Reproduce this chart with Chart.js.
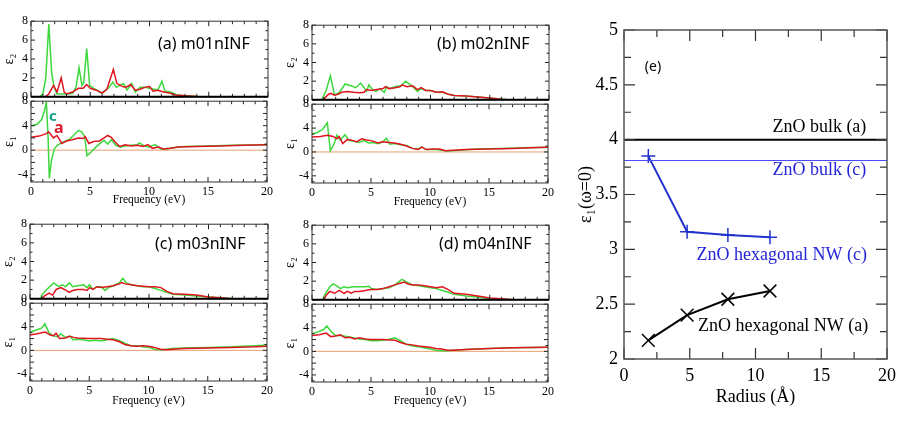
<!DOCTYPE html>
<html>
<head>
<meta charset="utf-8">
<script src="https://cdn.jsdelivr.net/npm/chart.js@4.4.1/dist/chart.umd.min.js"></script>
<style>
  body { margin: 0; background: #fff; width: 910px; height: 429px; position: relative; overflow: hidden; }
  canvas { position: absolute; }
  .lbl { position: absolute; font-family: "Noto Sans", sans-serif; white-space: nowrap; line-height: 1; transform: translateY(-50%); }
</style>
</head>
<body>
<script>
// ---- data: [frequency (eV), value] ----
const aE2Green = [[0,0],[0.7,0],[1.0,0.3],[1.25,2.0],[1.5,7.7],[1.75,2.5],[1.95,1.0],[2.2,0.3],[2.5,0.3],[3.0,0.3],[3.5,0.35],[3.8,1.0],[4.05,3.1],[4.3,1.2],[4.45,1.5],[4.7,5.1],[4.95,1.2],[5.3,0.9],[5.7,0.6],[6.0,0.4],[6.3,0.7],[6.6,1.0],[6.9,1.55],[7.2,1.0],[7.5,1.2],[7.8,1.4],[8.1,0.7],[8.5,1.4],[8.8,0.5],[9.2,1.0],[9.6,1.0],[10.0,0.9],[10.4,0.8],[10.7,0.7],[11.05,1.65],[11.3,0.6],[11.8,0.5],[12.3,0.2],[13,0.1],[14,0.03],[15,0],[20,0]];
const aE2Red = [[0,0],[1.2,0],[1.5,0.3],[1.9,1.2],[2.2,0.5],[2.55,2.0],[2.8,0.5],[3.0,0.3],[3.5,0.5],[4.0,0.9],[4.4,0.9],[4.7,1.3],[5.0,0.9],[5.5,0.7],[6.0,0.4],[6.4,0.8],[6.95,2.9],[7.25,1.4],[7.7,1.1],[8.0,1.0],[8.4,1.3],[8.8,0.7],[9.2,0.8],[9.6,1.0],[10.0,1.1],[10.3,0.6],[10.7,0.7],[11.2,0.5],[11.7,0.4],[12.2,0.2],[13,0.1],[14,0.03],[15,0],[20,0]];
const aE1Green = [[0,4.0],[0.5,4.2],[0.9,5.0],[1.15,6.5],[1.3,7.9],[1.45,2.0],[1.55,-4.6],[1.75,-1.5],[2.0,0.3],[2.3,0.9],[2.7,1.3],[3.2,1.7],[3.6,2.4],[4.0,3.2],[4.3,3.0],[4.55,2.2],[4.75,-0.9],[5.1,-0.3],[5.5,0.5],[5.9,1.2],[6.2,1.6],[6.5,1.0],[6.8,1.7],[7.2,0.8],[7.6,0.5],[8.0,0.7],[8.5,0.8],[9.0,0.9],[9.2,1.2],[9.5,0.8],[10.0,0.5],[10.5,0.9],[11.0,0.2],[11.5,0.2],[12.0,0.4],[13,0.6],[15,0.7],[17,0.8],[20,0.9]];
const aE1Red = [[0,2.1],[0.7,2.3],[1.3,2.7],[1.5,3.0],[1.9,2.0],[2.2,2.4],[2.4,1.8],[2.6,1.1],[3.0,1.5],[3.5,1.7],[4.0,2.0],[4.4,1.9],[4.6,2.2],[4.9,1.1],[5.3,1.4],[5.8,1.5],[6.1,1.9],[6.5,2.4],[6.8,2.1],[7.1,1.4],[7.5,0.6],[8.0,0.9],[8.5,0.7],[9.0,0.8],[9.5,0.6],[9.9,0.9],[10.3,0.3],[10.8,0.5],[11.2,0.2],[11.8,0.3],[12.5,0.5],[14,0.6],[16,0.7],[18,0.8],[20,0.9]];

const bE2Green = [[0,0],[0.8,0],[0.9,0.2],[1.2,1.0],[1.55,2.6],[1.9,0.5],[2.3,0.8],[2.8,1.7],[3.3,1.5],[3.7,1.3],[4.1,1.8],[4.4,1.3],[4.6,0.9],[4.8,1.6],[5.1,1.1],[5.4,0.9],[5.7,1.2],[6.1,0.8],[6.3,1.4],[6.6,1.2],[7.0,1.4],[7.5,1.5],[7.9,2.0],[8.3,1.6],[8.6,1.3],[8.9,0.9],[9.2,1.2],[9.6,1.0],[10.0,1.0],[10.5,0.8],[11.0,0.8],[11.5,0.6],[12,0.45],[13,0.4],[14,0.3],[15,0.2],[16,0.05],[16.5,0],[20,0]];
const bE2Red = [[0,0],[0.9,0],[1.0,0.1],[1.4,0.6],[1.6,0.7],[1.9,0.5],[2.2,0.6],[2.5,0.8],[3.0,0.9],[3.5,0.8],[4.0,0.75],[4.4,0.8],[4.6,1.1],[5.0,1.0],[5.5,1.1],[6.0,1.2],[6.2,1.4],[6.5,1.2],[7.0,1.3],[7.4,1.4],[7.6,1.6],[8.0,1.4],[8.5,1.5],[8.9,1.1],[9.2,1.3],[9.6,1.0],[10.0,1.0],[10.5,0.8],[11.0,0.85],[11.5,0.6],[12,0.45],[13,0.4],[14,0.3],[15,0.2],[16,0.05],[16.5,0],[20,0]];
const bE1Green = [[0,3.0],[0.5,3.3],[0.9,3.8],[1.3,4.9],[1.55,0.2],[1.9,1.5],[2.1,2.8],[2.4,2.0],[2.8,2.9],[3.1,2.0],[3.5,1.8],[4.0,1.6],[4.4,1.9],[4.8,1.5],[5.2,1.6],[5.6,1.4],[6.0,1.7],[6.3,2.3],[6.6,1.3],[7.0,1.4],[7.5,1.2],[8.0,1.1],[8.5,0.6],[9.0,0.5],[9.3,0.8],[9.7,0.4],[10.5,0.4],[11.0,0.3],[11.5,0.15],[12.5,0.3],[14,0.5],[16,0.6],[18,0.7],[20,0.8]];
const bE1Red = [[0,2.5],[0.7,2.6],[1.3,2.8],[1.8,2.6],[2.1,2.2],[2.3,2.6],[2.6,1.4],[3.0,2.1],[3.5,1.9],[3.8,1.7],[4.2,2.2],[4.6,2.0],[5.0,1.9],[5.6,1.5],[6.0,1.7],[6.5,1.6],[7.0,1.5],[7.5,1.3],[8.0,1.0],[8.5,0.6],[9.0,0.4],[9.3,0.8],[9.7,0.4],[10.3,0.5],[10.8,0.5],[11.3,0.2],[12,0.3],[13,0.4],[15,0.5],[17,0.6],[18.5,0.7],[20,0.8]];

const cE2Green = [[0,0],[0.9,0],[1.0,0.4],[1.4,1.0],[2.0,1.7],[2.4,1.3],[2.7,1.5],[3.0,1.3],[3.3,1.7],[3.6,1.3],[4.0,1.4],[4.5,1.5],[4.8,1.2],[5.0,1.5],[5.3,1.0],[5.6,1.3],[6.0,1.3],[6.3,0.9],[6.6,1.2],[7.0,1.4],[7.5,1.7],[7.8,2.2],[8.1,1.7],[8.5,1.5],[9.0,1.4],[9.5,1.3],[10.0,1.3],[10.5,1.1],[11.0,0.9],[11.5,0.7],[12,0.5],[13,0.4],[14,0.3],[15,0.2],[16,0.1],[17,0],[20,0]];
const cE2Red = [[0,0],[1.0,0],[1.2,0.3],[1.6,0.6],[1.9,0.4],[2.2,1.0],[2.6,1.2],[2.9,1.0],[3.3,0.7],[3.6,0.9],[4.0,1.0],[4.5,1.0],[4.8,0.9],[5.0,1.2],[5.3,1.0],[5.6,1.3],[6.0,1.2],[6.5,1.3],[7.0,1.4],[7.5,1.6],[7.7,1.75],[8.0,1.6],[8.5,1.5],[9.0,1.4],[9.5,1.35],[10,1.3],[10.5,1.3],[11.0,1.2],[11.5,0.8],[12,0.55],[13,0.5],[14,0.4],[15,0.2],[16,0.1],[17,0],[20,0]];
const cE1Green = [[0,3.1],[0.5,3.4],[1.0,3.8],[1.25,4.5],[1.6,3.0],[1.9,2.5],[2.3,2.3],[2.6,2.8],[3.0,2.2],[3.4,2.4],[3.6,1.8],[4.0,1.9],[4.5,1.8],[5.0,1.6],[5.5,1.7],[6.0,1.6],[6.5,1.8],[7.0,2.0],[7.5,1.7],[8.0,1.2],[8.5,0.8],[9.0,0.8],[9.5,0.6],[10,0.5],[10.5,0.2],[11,0.1],[11.5,0.2],[12,0.3],[13,0.4],[15,0.5],[17,0.6],[19,0.8],[20,0.9]];
const cE1Red = [[0,2.6],[0.6,2.8],[1.3,3.1],[1.7,2.6],[2.0,2.5],[2.2,2.9],[2.5,2.0],[3.0,2.1],[3.3,2.4],[3.7,2.2],[4.0,2.1],[5.0,2.0],[6.0,2.0],[6.5,1.9],[7.0,1.8],[7.5,1.5],[8.0,1.0],[8.5,0.8],[9.0,0.7],[9.5,0.8],[10,0.7],[10.5,0.5],[11,0.2],[11.5,0.1],[12,0.2],[13,0.3],[15,0.4],[17,0.5],[19,0.6],[20,0.7]];

const dE2Green = [[0,0],[0.9,0],[1.1,0.6],[1.5,1.4],[1.8,1.7],[2.1,1.5],[2.4,1.2],[2.7,1.4],[3.0,1.3],[3.5,1.4],[4.0,1.4],[4.5,1.4],[4.8,1.45],[5.0,1.2],[5.5,1.1],[6.0,1.2],[6.5,1.3],[7.0,1.6],[7.4,2.0],[7.6,2.2],[8.0,1.9],[8.5,1.6],[9.0,1.5],[9.5,1.4],[10,1.3],[10.5,1.2],[11,1.0],[11.5,0.8],[12,0.6],[13,0.4],[14,0.3],[15,0.1],[16,0.05],[17,0],[20,0]];
const dE2Red = [[0,0],[1.0,0],[1.2,0.5],[1.5,0.9],[1.9,0.7],[2.3,1.0],[2.7,0.7],[3.0,0.9],[3.3,0.7],[3.6,0.9],[4.0,0.9],[4.5,1.0],[5.0,1.1],[5.5,1.1],[6.0,1.2],[6.5,1.4],[7.0,1.6],[7.5,1.8],[7.8,1.9],[8.1,1.7],[8.5,1.6],[9.0,1.6],[9.5,1.5],[10,1.4],[10.5,1.3],[11,1.4],[11.5,1.1],[12,0.7],[13,0.6],[14,0.4],[15,0.2],[16,0.1],[17,0],[20,0]];
const dE1Green = [[0,3.0],[0.5,3.3],[1.0,3.7],[1.25,4.3],[1.6,3.4],[2.0,2.7],[2.5,2.7],[3.0,2.5],[3.5,2.3],[4.0,2.1],[4.5,2.0],[5.0,1.8],[5.5,1.8],[6.0,1.9],[6.5,2.0],[7.0,2.3],[7.5,1.8],[8.0,1.2],[8.5,0.9],[9.0,0.8],[9.5,0.6],[10,0.4],[10.5,0.2],[11,0.1],[11.5,0.1],[12,0.2],[13,0.3],[14,0.4],[15,0.5],[17,0.6],[20,0.7]];
const dE1Red = [[0,2.7],[0.6,2.8],[1.2,3.1],[1.6,2.5],[2.0,2.6],[2.4,2.8],[2.8,2.3],[3.2,2.4],[3.6,2.1],[4.0,2.3],[4.5,2.1],[5.0,2.0],[5.5,2.0],[6.0,2.0],[7.0,1.9],[7.5,1.5],[8.0,1.2],[8.5,1.1],[9.0,0.9],[10,0.7],[10.5,0.5],[11,0.4],[11.5,0.2],[12,0.2],[13,0.3],[14,0.4],[15,0.5],[17,0.6],[20,0.7]];

const freqTicks = [0, 5, 10, 15, 20];
const e2Ticks = [0, 2, 4, 6, 8];
const e1Ticks = [-4, -2, 0, 2, 4, 6, 8];

// panel (e): static dielectric constant vs wire radius
const radius = [1.85, 4.8, 7.9, 11.1];
const nwC = [3.85, 3.16, 3.13, 3.11];
const nwA = [2.17, 2.40, 2.545, 2.62];
const bulkA = 4.0;
const bulkC = 3.81;
const radiusTicks = [0, 5, 10, 15, 20];
const eps0Ticks = [2, 2.5, 3, 3.5, 4, 4.5, 5];

const SERIF = '"Liberation Serif", "DejaVu Serif", serif';
const GREEN = '#3cd83c', RED = '#e01420', ZERO = '#e8a070';
const BLUE = '#2233cc';

// inward ticks + frame drawn on every side of the plot area
const frameTicks = {
  id: 'frameTicks',
  afterDraw(chart, args, o) {
    const { ctx, chartArea: a } = chart;
    const sx = chart.scales.x, sy = chart.scales.y;
    const isMajor = (v, s) => Math.abs(v / s - Math.round(v / s)) < 1e-6;
    ctx.save();
    ctx.strokeStyle = o.tickColor;
    ctx.lineWidth = o.tickWidth;
    ctx.beginPath();
    for (let i = Math.ceil(sx.min / o.xMinor - 1e-9); i * o.xMinor <= sx.max + 1e-9; i++) {
      const v = i * o.xMinor, px = sx.getPixelForValue(v);
      const len = isMajor(v, o.xMajor) ? o.xLong : o.xShort;
      ctx.moveTo(px, a.bottom); ctx.lineTo(px, a.bottom - len);
      ctx.moveTo(px, a.top); ctx.lineTo(px, a.top + len);
    }
    for (let i = Math.ceil(sy.min / o.yMinor - 1e-9); i * o.yMinor <= sy.max + 1e-9; i++) {
      const v = i * o.yMinor, py = sy.getPixelForValue(v);
      const len = isMajor(v, o.yMajor) ? o.yLong : o.yShort;
      ctx.moveTo(a.left, py); ctx.lineTo(a.left + len, py);
      ctx.moveTo(a.right, py); ctx.lineTo(a.right - len, py);
    }
    ctx.stroke();
    ctx.strokeStyle = o.frameColor;
    ctx.lineWidth = o.frameWidth;
    ctx.strokeRect(a.left, a.top, a.right - a.left, a.bottom - a.top);
    if (o.thickBottom) {
      ctx.strokeStyle = '#000';
      ctx.lineWidth = 2;
      ctx.beginPath();
      ctx.moveTo(a.left, a.bottom); ctx.lineTo(a.right, a.bottom);
      ctx.stroke();
    }
    ctx.restore();
  }
};

// text notes placed at data coordinates
const notesPlugin = {
  id: 'notes',
  afterDraw(chart, args, o) {
    const { ctx } = chart;
    ctx.save();
    ctx.textBaseline = 'middle';
    o.items.forEach(n => {
      ctx.font = n.font;
      ctx.fillStyle = n.color;
      ctx.textAlign = n.align;
      ctx.fillText(n.text, chart.scales.x.getPixelForValue(n.x), chart.scales.y.getPixelForValue(n.y));
    });
    ctx.restore();
  }
};

function addCanvas(left, top, w, h) {
  const c = document.createElement('canvas');
  c.width = Math.round(w);
  c.height = Math.round(h);
  c.style.left = Math.round(left) + 'px';
  c.style.top = Math.round(top) + 'px';
  document.body.appendChild(c);
  return c;
}

function addLabel(text, left, centerY, css) {
  const d = document.createElement('div');
  d.className = 'lbl';
  d.textContent = text;
  d.style.left = left + 'px';
  d.style.top = centerY + 'px';
  Object.assign(d.style, css);
  document.body.appendChild(d);
}

const setTicks = arr => s => { s.ticks = arr.map(v => ({ value: v })); };

function smallChart(p, bottom) {
  const yW = 31, pad = 8;
  const top = bottom ? p.M : p.T;
  const plotH = bottom ? p.B - p.M : p.M - p.T;
  const xH = bottom ? p.H : 0;
  const padBottom = bottom ? 2 : pad;
  const canvas = addCanvas(p.L - yW, top - pad, p.R - p.L + yW + pad, pad + plotH + xH + padBottom);
  const series = bottom ? p.e1 : p.e2;
  const datasets = [
    { data: series[1], borderColor: RED, borderWidth: 1.5 },
    { data: series[0], borderColor: GREEN, borderWidth: 1.5 }
  ];
  if (bottom) datasets.push({ data: [[0, 0], [20, 0]], borderColor: ZERO, borderWidth: 1 });
  new Chart(canvas, {
    type: 'line',
    data: { datasets },
    plugins: [frameTicks],
    options: {
      responsive: false,
      animation: false,
      devicePixelRatio: 1,
      layout: { padding: { left: 0, right: pad, top: pad, bottom: padBottom } },
      elements: { point: { radius: 0 }, line: { tension: 0 } },
      plugins: {
        legend: { display: false },
        tooltip: { enabled: false },
        frameTicks: {
          tickColor: '#222', tickWidth: 1, frameColor: '#333', frameWidth: 1,
          xMinor: 1, xMajor: 5, xLong: 5, xShort: 3,
          yMinor: 1, yMajor: 2, yLong: 4, yShort: 2.5,
          thickBottom: !bottom
        }
      },
      scales: {
        x: {
          type: 'linear', min: 0, max: 20, display: bottom,
          afterBuildTicks: setTicks(freqTicks),
          afterFit: s => { s.height = xH; },
          grid: { display: false, drawTicks: false },
          border: { display: false },
          ticks: { padding: 3, color: '#000', font: { family: SERIF, size: 12 } },
          title: { display: true, text: 'Frequency (eV)', padding: 0, color: '#000', font: { family: SERIF, size: 11.5 } }
        },
        y: {
          type: 'linear', min: bottom ? -5.2 : 0, max: 8,
          afterBuildTicks: setTicks(bottom ? e1Ticks : e2Ticks),
          afterFit: s => { s.width = yW; },
          grid: { display: false, drawTicks: false },
          border: { display: false },
          ticks: { padding: 3, color: '#000', font: { family: SERIF, size: 12 } },
          title: { display: true, text: bottom ? 'ε₁' : 'ε₂', padding: { top: 1, bottom: 0 }, color: '#000', font: { family: SERIF, size: 14 } }
        }
      }
    }
  });
}

const panels = [
  { name: '(a) m01nINF', L: 31, R: 268, T: 19, M: 99, B: 182, H: 25, lx: 158, ly: 43, e2: [aE2Green, aE2Red], e1: [aE1Green, aE1Red] },
  { name: '(b) m02nINF', L: 312, R: 549, T: 23, M: 102, B: 183, H: 26, lx: 437, ly: 43, e2: [bE2Green, bE2Red], e1: [bE1Green, bE1Red] },
  { name: '(c) m03nINF', L: 30, R: 268, T: 222, M: 301, B: 381, H: 27, lx: 155, ly: 243, e2: [cE2Green, cE2Red], e1: [cE1Green, cE1Red] },
  { name: '(d) m04nINF', L: 312, R: 549, T: 223, M: 302, B: 382, H: 26, lx: 439, ly: 243, e2: [dE2Green, dE2Red], e1: [dE1Green, dE1Red] }
];

panels.forEach(p => {
  smallChart(p, false);
  smallChart(p, true);
  addLabel(p.name, p.lx, p.ly, { fontSize: '16px', color: '#000' });
});
addLabel('c', 49, 115, { fontSize: '15px', fontWeight: 'bold', color: '#17a08c' });
addLabel('a', 54, 127, { fontSize: '16px', fontWeight: 'bold', color: '#dd1a2a' });

// ---- panel (e) ----
const eCanvas = addCanvas(575, 0, 335, 429);
new Chart(eCanvas, {
  type: 'line',
  data: {
    datasets: [
      { data: [[0, bulkA], [20, bulkA]], borderColor: '#000', borderWidth: 2, pointRadius: 0 },
      { data: [[0, bulkC], [20, bulkC]], borderColor: '#4a4aff', borderWidth: 1, pointRadius: 0 },
      { data: radius.map((r, i) => [r, nwC[i]]), borderColor: BLUE, borderWidth: 2,
        pointStyle: 'cross', pointRadius: 7, pointBorderWidth: 1.5, pointBorderColor: BLUE },
      { data: radius.map((r, i) => [r, nwA[i]]), borderColor: '#000', borderWidth: 2,
        pointStyle: 'crossRot', pointRadius: 9, pointBorderWidth: 1.5, pointBorderColor: '#000' }
    ]
  },
  plugins: [frameTicks, notesPlugin],
  options: {
    responsive: false,
    animation: false,
    devicePixelRatio: 1,
    layout: { padding: { left: 0, right: 23, top: 30, bottom: 21 } },
    elements: { line: { tension: 0 } },
    plugins: {
      legend: { display: false },
      tooltip: { enabled: false },
      frameTicks: {
        tickColor: '#333', tickWidth: 1.2, frameColor: '#555', frameWidth: 1.5,
        xMinor: 2.5, xMajor: 5, xLong: 11, xShort: 7,
        yMinor: 0.25, yMajor: 0.5, yLong: 11, yShort: 7,
        thickBottom: false
      },
      notes: {
        items: [
          { text: '(e)', x: 2.2, y: 4.66, align: 'center', color: '#000', font: '14px "Noto Sans", sans-serif' },
          { text: 'ZnO bulk (a)', x: 18.43, y: 4.11, align: 'right', color: '#000', font: '18px ' + SERIF },
          { text: 'ZnO bulk (c)', x: 18.43, y: 3.72, align: 'right', color: '#2424d8', font: '18px ' + SERIF },
          { text: 'ZnO hexagonal NW (c)', x: 5.52, y: 2.95, align: 'left', color: '#2424d8', font: '18px ' + SERIF },
          { text: 'ZnO hexagonal NW (a)', x: 5.62, y: 2.30, align: 'left', color: '#000', font: '18px ' + SERIF }
        ]
      }
    },
    scales: {
      x: {
        type: 'linear', min: 0, max: 20,
        afterBuildTicks: setTicks(radiusTicks),
        afterFit: s => { s.height = 49; },
        grid: { display: false, drawTicks: false },
        border: { display: false },
        ticks: { padding: 6, color: '#000', font: { family: SERIF, size: 18 } },
        title: { display: true, text: 'Radius (Å)', padding: 0, color: '#000', font: { family: SERIF, size: 18 } }
      },
      y: {
        type: 'linear', min: 2, max: 5,
        afterBuildTicks: setTicks(eps0Ticks),
        afterFit: s => { s.width = 49; },
        grid: { display: false, drawTicks: false },
        border: { display: false },
        ticks: { padding: 6, color: '#000', font: { family: SERIF, size: 18 }, callback: v => String(v) },
        title: { display: true, text: 'ε₁(ω=0)', padding: 0, color: '#000', font: { family: SERIF, size: 18 } }
      }
    }
  }
});
</script>
</body>
</html>
